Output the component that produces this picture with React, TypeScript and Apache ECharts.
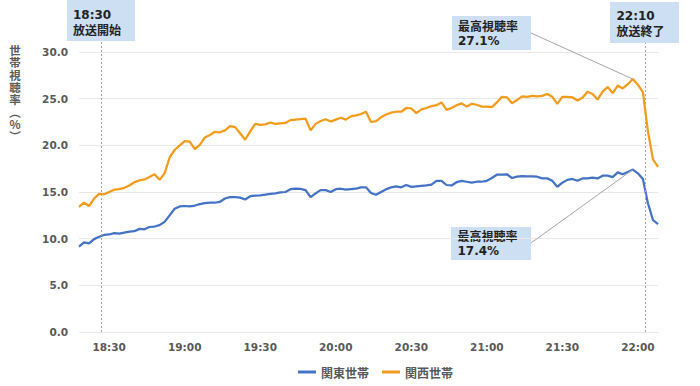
import React, { useEffect, useRef } from "react";
import * as echarts from "echarts";

// ---- data ----
const AXIS_START = "18:18";
const AXIS_END = "22:08";
const SAMPLE_STEP_MIN = 2;
const tickLabels = ["18:30", "19:00", "19:30", "20:00", "20:30", "21:00", "21:30", "22:00"];
const seriesNames = ["関東世帯", "関西世帯"];
const yAxisTitle = ["世", "帯", "視", "聴", "率", "︵", "%", "︶"];
const yMin = 0;
const yMax = 30;
const yInterval = 5;

const kantoValues = [
  9.15, 9.6, 9.5, 9.95, 10.2, 10.4, 10.45, 10.6, 10.55, 10.65,
  10.75, 10.8, 11.05, 11.0, 11.25, 11.3, 11.45, 11.8, 12.5, 13.2,
  13.45, 13.5, 13.45, 13.55, 13.7, 13.8, 13.85, 13.85, 13.95, 14.3,
  14.45, 14.45, 14.4, 14.2, 14.55, 14.62, 14.65, 14.72, 14.8, 14.85,
  14.95, 15.0, 15.3, 15.35, 15.33, 15.2, 14.45, 14.85, 15.2, 15.2,
  15.0, 15.3, 15.35, 15.25, 15.3, 15.35, 15.5, 15.5, 14.9, 14.7,
  15.0, 15.3, 15.5, 15.6, 15.5, 15.75, 15.55, 15.6, 15.65, 15.7,
  15.8, 16.2, 16.2, 15.75, 15.7, 16.05, 16.2, 16.1, 16.0, 16.1,
  16.1, 16.2, 16.5, 16.85, 16.85, 16.9, 16.5, 16.65, 16.7, 16.68,
  16.68, 16.64, 16.46, 16.46, 16.2, 15.55, 16.0, 16.3, 16.4, 16.2,
  16.45, 16.45, 16.54, 16.45, 16.75, 16.75, 16.6, 17.1, 16.9, 17.15,
  17.4, 17.0, 16.4, 13.8, 12.0, 11.55,
];

const kansaiValues = [
  13.4, 13.85, 13.5, 14.3, 14.8, 14.75, 15.0, 15.25, 15.3, 15.45,
  15.7, 16.05, 16.25, 16.35, 16.6, 16.9, 16.3, 17.0, 18.7, 19.5,
  20.0, 20.45, 20.4, 19.6, 20.05, 20.85, 21.1, 21.45, 21.4, 21.6,
  22.05, 21.95, 21.3, 20.6, 21.5, 22.3, 22.2, 22.25, 22.45, 22.3,
  22.35, 22.4, 22.7, 22.75, 22.8, 22.85, 21.6, 22.3, 22.6, 22.8,
  22.55, 22.75, 22.95, 22.75, 23.1, 23.2, 23.35, 23.6, 22.5, 22.6,
  23.0, 23.3, 23.5, 23.6, 23.6, 24.0, 23.95, 23.45, 23.85, 24.0,
  24.2, 24.3, 24.6, 23.8, 24.0, 24.3, 24.5, 24.15, 24.45, 24.35,
  24.15, 24.15, 24.1, 24.6, 25.2, 25.15, 24.5, 24.85, 25.25, 25.2,
  25.3, 25.25, 25.3, 25.5, 25.2, 24.45, 25.2, 25.2, 25.15, 24.8,
  25.1, 25.75, 25.5, 24.9, 25.75, 26.25, 25.6, 26.4, 26.1, 26.55,
  27.1, 26.5, 25.7, 21.5, 18.5, 17.7,
];

const broadcastStart = { text: "18:30\n放送開始", at: "18:27" };
const broadcastEnd = { text: "22:10\n放送終了", at: "22:03" };
const peakTitle = "最高視聴率";

// ---- helpers ----
const toMin = (s: string) => {
  const [h, m] = s.split(":").map(Number);
  return h * 60 + m;
};
const fmt = (t: number) => `${Math.floor(t / 60)}:${String(t % 60).padStart(2, "0")}`;

const categories: string[] = [];
for (let t = toMin(AXIS_START); t <= toMin(AXIS_END); t++) categories.push(fmt(t));

const toPairs = (vals: number[]) =>
  vals.map((v, i) => [fmt(toMin(AXIS_START) + i * SAMPLE_STEP_MIN), v]);

const peakOf = (vals: number[]) => {
  let idx = 0;
  vals.forEach((v, i) => {
    if (v > vals[idx]) idx = i;
  });
  return { time: fmt(toMin(AXIS_START) + idx * SAMPLE_STEP_MIN), value: vals[idx] };
};

const BLUE = "#4472C4";
const ORANGE = "#F39B1C";
const GREY_TEXT = "#595959";
const BOX_FILL = "#CDDFF3";
const LATIN = "'DejaVu Sans', 'Noto Sans CJK JP', sans-serif";
const CJK = "'Noto Sans CJK JP', sans-serif";

export default function App() {
  const ref = useRef<HTMLDivElement>(null);

  useEffect(() => {
    if (!ref.current) return;
    const chart = echarts.init(ref.current, undefined, { renderer: "svg" });
    const kantoPeak = peakOf(kantoValues);
    const kansaiPeak = peakOf(kansaiValues);

    const dashed = { color: "#a6a6a6", width: 1, type: [2, 2] as any };
    const leader = { color: "#a6a6a6", width: 1, type: "solid" as any };

    const boxText = (x: number, y: number, text: string, lineHeight: number) => ({
      type: "text",
      x,
      y,
      silent: true,
      style: {
        text,
        fill: "#222",
        fontSize: 12,
        fontWeight: "bold",
        fontFamily: LATIN,
        lineHeight,
        textVerticalAlign: "top",
      },
    });
    const box = (x: number, y: number, width: number, height: number) => ({
      type: "rect",
      silent: true,
      shape: { x, y, width, height },
      style: { fill: BOX_FILL },
    });

    const titleChars = yAxisTitle.map((ch, i) => ({
      type: "text",
      x: 15,
      y: 50 + i * 12.3,
      silent: true,
      style: {
        text: ch,
        fill: GREY_TEXT,
        fontSize: 11.5,
        fontWeight: "bold",
        fontFamily: CJK,
        textAlign: "center",
        textVerticalAlign: "middle",
      },
    }));

    chart.setOption({
      animation: false,
      backgroundColor: "#ffffff",
      grid: { left: 79, right: 42, top: 52, bottom: 54 },
      legend: {
        data: seriesNames,
        left: 293,
        top: 361,
        icon: "rect",
        itemWidth: 18,
        itemHeight: 3,
        itemGap: 13,
        textStyle: { color: GREY_TEXT, fontSize: 12, fontWeight: "bold", fontFamily: CJK },
      },
      xAxis: {
        type: "category",
        data: categories,
        boundaryGap: false,
        axisLine: { show: false },
        axisTick: { show: false },
        splitLine: { show: false },
        axisLabel: {
          interval: (_i: number, v: string) => tickLabels.includes(v),
          color: GREY_TEXT,
          fontSize: 10.5,
          fontWeight: "bold",
          fontFamily: LATIN,
          margin: 10,
        },
      },
      yAxis: {
        type: "value",
        min: yMin,
        max: yMax,
        interval: yInterval,
        axisLine: { show: false },
        axisTick: { show: false },
        splitLine: { lineStyle: { color: "#e8e8e8", width: 1 } },
        axisLabel: {
          formatter: (v: number) => v.toFixed(1),
          color: GREY_TEXT,
          fontSize: 10.5,
          fontWeight: "bold",
          fontFamily: LATIN,
          margin: 11,
        },
      },
      series: [
        {
          name: seriesNames[0],
          type: "line",
          color: BLUE,
          data: toPairs(kantoValues),
          showSymbol: false,
          lineStyle: { width: 2.25, color: BLUE },
          markLine: {
            silent: true,
            symbol: "none",
            label: { show: false },
            lineStyle: leader,
            data: [
              [{ x: 531, y: 243, lineStyle: leader }, { coord: [kantoPeak.time, kantoPeak.value] }],
            ],
          },
        },
        {
          name: seriesNames[1],
          type: "line",
          color: ORANGE,
          data: toPairs(kansaiValues),
          showSymbol: false,
          lineStyle: { width: 2.25, color: ORANGE },
          markLine: {
            silent: true,
            symbol: "none",
            label: { show: false },
            lineStyle: dashed,
            data: [
              [{ xAxis: broadcastStart.at, yAxis: yMin, lineStyle: dashed }, { xAxis: broadcastStart.at, y: 41 }],
              [{ xAxis: broadcastEnd.at, yAxis: yMin, lineStyle: dashed }, { xAxis: broadcastEnd.at, y: 43 }],
              [{ x: 531, y: 33, lineStyle: leader }, { coord: [kansaiPeak.time, kansaiPeak.value] }],
            ],
          },
        },
      ],
      graphic: [
        ...titleChars,
        box(67, 0, 68, 41),
        boxText(73, 6.5, broadcastStart.text, 16),
        box(610, 2, 69, 41),
        boxText(616.5, 8, broadcastEnd.text, 16),
        box(452, 16, 79, 34),
        boxText(458, 19.5, `${peakTitle}\n${kansaiPeak.value.toFixed(1)}%`, 14.5),
        box(451, 227, 80, 33),
        boxText(457.5, 229.5, `${peakTitle}\n${kantoPeak.value.toFixed(1)}%`, 14.5),
      ],
    });
    return () => chart.dispose();
  }, []);

  return (
    <div
      ref={ref}
      style={{ position: "fixed", left: 0, top: 0, width: 700, height: 386, background: "#fff" }}
    />
  );
}
